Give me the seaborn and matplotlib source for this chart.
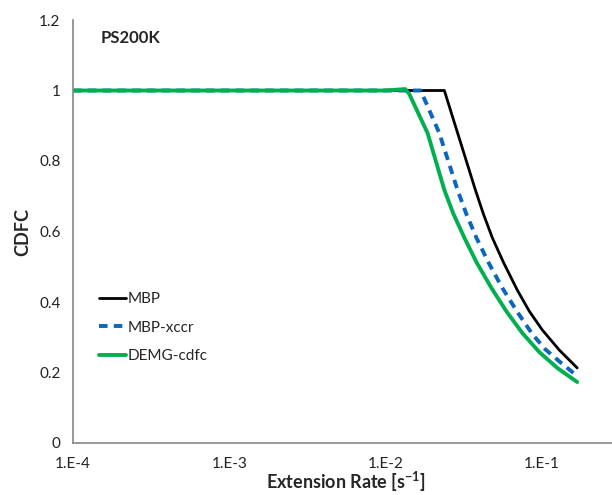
import matplotlib
matplotlib.use("Agg")
import matplotlib.pyplot as plt
import matplotlib.ticker as mticker
from matplotlib.lines import Line2D
import seaborn as sns
import pandas as pd

# ---- data ----
mbp_x = [1e-4, 1e-3, 1e-2, 0.0238, 0.0376, 0.0423, 0.0483, 0.0568, 0.0697, 0.0832,
         0.1007, 0.1293, 0.1686]
mbp_y = [1.0, 1.0, 1.0, 1.0, 0.718, 0.650, 0.582, 0.513, 0.434, 0.374,
         0.321, 0.264, 0.213]

xccr_x = [1e-4, 1e-3, 1e-2, 0.0168, 0.0221, 0.0289, 0.0329, 0.0382, 0.0455, 0.0559,
          0.0697, 0.0870, 0.1053, 0.1332, 0.1686]
xccr_y = [1.0, 1.0, 1.0, 1.0, 0.879, 0.718, 0.650, 0.582, 0.513, 0.440,
          0.372, 0.309, 0.266, 0.227, 0.190]

demg_x = [1e-4, 1e-3, 1e-2, 0.0134, 0.0142, 0.0186, 0.0238, 0.0272, 0.0320, 0.0382,
          0.0476, 0.0593, 0.0751, 0.0964, 0.1256, 0.1686]
demg_y = [1.0, 1.0, 1.0, 1.004, 0.99, 0.879, 0.718, 0.650, 0.582, 0.513,
          0.440, 0.374, 0.312, 0.258, 0.213, 0.173]

series_names = ["MBP", "MBP-xccr", "DEMG-cdfc"]
x_ticks = [1e-4, 1e-3, 1e-2, 1e-1, 1e0]
x_tick_labels = ["1.E-4", "1.E-3", "1.E-2", "1.E-1", ""]
y_ticks = [0, 0.2, 0.4, 0.6, 0.8, 1.0, 1.2]
y_tick_labels = ["0", "0.2", "0.4", "0.6", "0.8", "1", "1.2"]

sns.set_style("white")
plt.rcParams["font.family"] = ["Lato", "DejaVu Sans"]

W, H = 612, 495
fig = plt.figure(figsize=(W / 100, H / 100), dpi=100)
# axes extends past right edge (reference is cropped)
x0, x1, ytop, ybot = 73, 698, 20, 443
ax = fig.add_axes([x0 / W, 1 - ybot / H, (x1 - x0) / W, (ybot - ytop) / H])

df = pd.concat([
    pd.DataFrame({"x": mbp_x, "y": mbp_y, "s": series_names[0]}),
    pd.DataFrame({"x": xccr_x, "y": xccr_y, "s": series_names[1]}),
    pd.DataFrame({"x": demg_x, "y": demg_y, "s": series_names[2]}),
])

styles = {
    "MBP": dict(color="black", lw=2.0, ls="-"),
    "MBP-xccr": dict(color="#0A66BE", lw=2.8, ls=(0, (2.2, 1.6))),
    "DEMG-cdfc": dict(color="#00B050", lw=2.8, ls="-"),
}
for name in series_names:
    st = styles[name]
    sub = df[df["s"] == name]
    sns.lineplot(data=sub, x="x", y="y", ax=ax, color=st["color"], linewidth=st["lw"],
                 linestyle=st["ls"], sort=False, estimator=None, legend=False)
    ax.lines[-1].set_linestyle(st["ls"])
    ax.lines[-1].set_solid_joinstyle("round")
    ax.lines[-1].set_dash_capstyle("butt")

ax.set_xscale("log")
ax.set_xlim(1e-4, 1e0)
ax.set_ylim(0, 1.2)
ax.set_xticks(x_ticks)
ax.set_xticklabels(x_tick_labels)
ax.xaxis.set_minor_locator(mticker.LogLocator(base=10, subs=range(2, 10), numticks=20))
ax.xaxis.set_minor_formatter(mticker.NullFormatter())
ax.set_yticks(y_ticks)
ax.set_yticklabels(y_tick_labels)
ax.yaxis.set_minor_locator(mticker.MultipleLocator(0.04))

spine_c = "#868686"
for s in ["top", "right"]:
    ax.spines[s].set_visible(False)
for s in ["left", "bottom"]:
    ax.spines[s].set_color(spine_c)
    ax.spines[s].set_linewidth(1.2)

ax.tick_params(axis="both", which="both", direction="in", color=spine_c, width=1.0)
ax.tick_params(axis="x", which="major", length=6, labelsize=11, pad=10, labelcolor="#222222")
ax.tick_params(axis="x", which="minor", length=3.5)
ax.tick_params(axis="y", which="major", length=5, labelsize=11, pad=9, labelcolor="#222222")
ax.tick_params(axis="y", which="minor", length=4.5)
ax.set_xlabel("")
ax.set_ylabel("")

fig.text(346 / W, 1 - 482 / H, "Extension Rate [s$^{\\mathregular{-1}}$]", ha="center", va="center",
         fontsize=13, fontweight="bold")
fig.text(23 / W, 1 - 232 / H, "CDFC", ha="center", va="center", rotation=90,
         fontsize=13, fontweight="bold")
fig.text(101 / W, 1 - 38 / H, "PS200K", ha="left", va="center", fontsize=12, fontweight="bold")

handles = [Line2D([], [], color=styles[n]["color"], lw=styles[n]["lw"], ls=styles[n]["ls"]) for n in series_names]
leg = ax.legend(handles, series_names, loc="upper left",
                bbox_to_anchor=(99 / W, 1 - 292 / H), bbox_transform=fig.transFigure,
                frameon=False, fontsize=11, handlelength=1.75, handletextpad=0.15,
                labelspacing=0.95, borderaxespad=0, borderpad=0)

fig.savefig("out.png", dpi=100)
